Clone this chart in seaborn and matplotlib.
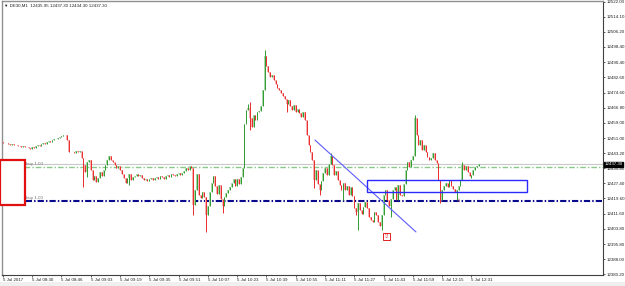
import matplotlib
matplotlib.use("Agg")
import matplotlib.pyplot as plt
import matplotlib.patches as mpatches
import numpy as np
import pandas as pd
import seaborn as sns

# DE30 M1 closes, one per minute
close = [
    12448.6, 12448.2, 12448.4, 12448.0, 12447.6, 12447.8, 12447.2, 12447.4, 12446.9, 12447.1,
    12446.6, 12446.8, 12446.2, 12446.5, 12445.9, 12445.4, 12446.3, 12446.0, 12446.9, 12447.3,
    12447.0, 12447.8, 12448.3, 12448.0, 12448.9, 12449.4, 12449.1, 12450.0, 12450.6, 12450.3,
    12451.2, 12451.6, 12451.9, 12452.4, 12452.8, 12450.2, 12444.0, 12443.6, 12443.9, 12443.5,
    12444.5, 12443.7, 12444.2,
    12440.6, 12437.0, 12433.4, 12438.6, 12439.6, 12434.4, 12429.2, 12431.3, 12428.2, 12430.2,
    12433.4, 12431.3, 12434.4, 12437.0, 12439.6, 12441.7, 12439.6, 12438.6, 12437.0, 12435.4,
    12436.4, 12434.4, 12432.3, 12430.2, 12427.6, 12430.2, 12432.3, 12429.2, 12430.8, 12431.3,
    12432.3, 12431.3, 12431.8, 12430.2, 12429.2, 12429.7, 12428.7, 12429.7, 12430.2, 12429.2,
    12430.2, 12430.8, 12429.7, 12431.3, 12430.8, 12429.7, 12431.3, 12431.8, 12430.8, 12432.3,
    12431.8, 12431.3, 12432.3, 12432.8, 12431.8, 12432.8, 12433.9, 12435.4, 12434.4, 12436.5,
    12435.4, 12416.2, 12424.0, 12432.3, 12421.4, 12419.8, 12422.9, 12420.4, 12411.0, 12415.7,
    12422.9, 12427.6, 12431.3, 12426.1, 12421.9, 12426.6, 12419.3, 12415.7, 12420.4, 12422.4,
    12424.0, 12425.6, 12427.6, 12429.7, 12426.1, 12429.7, 12427.1, 12430.8, 12435.4, 12458.3,
    12465.6, 12466.6, 12461.4, 12456.8, 12463.0, 12460.4, 12464.6, 12465.1, 12467.7, 12476.0,
    12493.7, 12488.5, 12485.4, 12482.8, 12483.8, 12481.2, 12479.1, 12477.0, 12476.0, 12474.4,
    12472.9, 12471.3, 12468.7, 12470.8, 12467.7, 12465.6, 12468.2, 12464.6, 12466.1, 12464.0,
    12462.0, 12464.6, 12460.4, 12452.6, 12447.4, 12443.8, 12439.6, 12429.2, 12434.4, 12427.1,
    12424.0, 12428.7, 12432.8, 12435.4, 12431.8, 12437.5, 12441.7, 12437.0, 12431.8, 12433.9,
    12429.2, 12426.6, 12424.0, 12427.6, 12424.0, 12426.1, 12421.4, 12425.6, 12420.9, 12414.6,
    12412.6, 12417.2, 12413.6, 12411.5, 12415.2, 12417.8, 12414.6, 12410.0, 12408.4, 12407.4,
    12412.6, 12411.0, 12407.4, 12405.3, 12411.0, 12421.4, 12424.0, 12418.8, 12415.7, 12419.3,
    12424.0, 12425.6, 12418.8, 12426.6, 12421.4, 12420.9, 12427.1, 12434.4, 12438.6, 12436.0,
    12439.6, 12441.7, 12461.4, 12452.6, 12447.4, 12450.0, 12444.8, 12447.4, 12443.8, 12441.2,
    12439.6, 12440.6, 12443.2, 12439.6, 12438.0, 12429.2, 12418.8, 12424.0, 12426.1, 12427.6,
    12425.6, 12429.2, 12426.1, 12424.5, 12422.9, 12424.0, 12426.1, 12429.2, 12437.0, 12434.4,
    12436.5, 12433.4, 12431.3, 12431.8, 12434.4, 12436.0, 12436.5, 12437.3,
]
first_open = 12448.8

# wicks that stick out beyond the body
wick_high = {134: 12468.7, 135: 12469.8, 143: 12496.8, 179: 12443.2, 225: 12463.0,
             251: 12438.6}
wick_low = {44: 12425.5, 46: 12430.8, 69: 12426.6, 104: 12411.0, 111: 12402.2,
            120: 12412.0, 135: 12455.2, 155: 12464.6, 170: 12425.0, 173: 12421.4,
            186: 12418.8, 193: 12411.0, 194: 12403.2, 207: 12403.2, 212: 12410.0,
            239: 12417.2, 248: 12418.8, 256: 12430.2}

time_labels = ['5 Jul 2017', '5 Jul 08:30', '5 Jul 08:46', '5 Jul 09:03', '5 Jul 09:19',
               '5 Jul 09:35', '5 Jul 09:51', '5 Jul 10:07', '5 Jul 10:23', '5 Jul 10:39',
               '5 Jul 10:55', '5 Jul 11:11', '5 Jul 11:27', '5 Jul 11:43', '5 Jul 11:59',
               '5 Jul 12:15', '5 Jul 12:31']
price_ticks = [12522.00, 12514.10, 12506.20, 12498.40, 12490.40, 12482.60, 12474.60,
               12466.80, 12459.00, 12451.00, 12443.20, 12435.40, 12427.40, 12419.60,
               12411.60, 12403.80, 12395.80, 12388.00, 12380.20]

bid = 12437.30
buy_level = 12436.0
stop_level = 12418.3
trend_idx = [170.5, 225.7]
trend_price = [12450.0, 12402.2]
zone_idx = [198.9, 286.3]
zone_price = [12423.0, 12429.2]
box_idx = [-1.6, 12.0]
box_price = [12416.2, 12439.6]
header = 'DE30,M1  12435.95 12437.30 12434.30 12437.30'

sns.set_theme(style='white')
plt.rcParams['font.family'] = ['Liberation Sans', 'DejaVu Sans']
small = 3.2

df = pd.DataFrame({'close': close})
df['open'] = [first_open] + close[:-1]
df['high'] = df[['open', 'close']].max(axis=1)
df['low'] = df[['open', 'close']].min(axis=1)
for k, v in wick_high.items():
    df.loc[k, 'high'] = v
for k, v in wick_low.items():
    df.loc[k, 'low'] = v
df['up'] = df['close'] >= df['open']

fig = plt.figure(figsize=(6.25, 2.86), dpi=100)
fig.patch.set_facecolor('white')
ax = fig.add_axes([2 / 625, 11 / 286, 601 / 625, 274 / 286])
ax.set_facecolor('white')

# horizontal levels
ax.axhline(bid, color='#c8c8c8', lw=0.8, zorder=1)
ax.axhline(buy_level, color='#88c888', lw=1.0, ls=(0, (4, 1.5, 1, 1.5)), zorder=1)
ax.axhline(stop_level, color='#0a0a8c', lw=1.5, ls=(0, (3, 1, 0.7, 1)), zorder=1)

# candles
up = df[df['up']]
dn = df[~df['up']]
ax.bar(up.index, up['close'] - up['open'], bottom=up['open'], width=0.85,
       color='#a8d8a8', linewidth=0, zorder=2)
ax.bar(dn.index, dn['open'] - dn['close'], bottom=dn['close'], width=0.85,
       color='#f7b0b0', linewidth=0, zorder=2)
ax.vlines(up.index, up['low'], up['high'], color='#2f9a2f', lw=0.7, zorder=3)
ax.vlines(dn.index, dn['low'], dn['high'], color='#ea2b2b', lw=0.7, zorder=3)

# trend line and zone
tl = pd.DataFrame({'i': trend_idx, 'p': trend_price})
sns.lineplot(data=tl, x='i', y='p', ax=ax, color='#5c5cff', lw=0.8, zorder=4)
ax.add_patch(mpatches.Rectangle((zone_idx[0], zone_price[0]), zone_idx[1] - zone_idx[0],
                                zone_price[1] - zone_price[0], fill=False,
                                edgecolor='#2a2aff', lw=1.0, zorder=4))

# order labels
ax.text(22, buy_level + 0.6, '#1 buy 1.00', fontsize=small, color='#707070',
        ha='right', va='bottom', zorder=5)
ax.text(22, stop_level + 0.6, '#1 buy 1.00', fontsize=small, color='#707070',
        ha='right', va='bottom', zorder=5)

# red box on the left
ax.add_patch(mpatches.Rectangle((box_idx[0] + 0.6, box_price[0] - 0.6), box_idx[1] - box_idx[0],
                                box_price[1] - box_price[0], facecolor='#d0d0d0',
                                edgecolor='none', clip_on=False, zorder=6))
ax.add_patch(mpatches.Rectangle((box_idx[0], box_price[0]), box_idx[1] - box_idx[0],
                                box_price[1] - box_price[0], facecolor='white',
                                edgecolor='#e01010', lw=1.6, clip_on=False, zorder=7))

# arrow markers
ax.text(209.8, 12399.6, '\u21e7', fontsize=4.5, color='#e02020', ha='center', va='center',
        family='DejaVu Sans', zorder=6,
        bbox=dict(boxstyle='square,pad=0.15', fc='white', ec='#e02020', lw=0.7))
ax.text(248.6, 12418.6, '\u21e7', fontsize=3.5, color='#e06060', ha='center', va='center',
        family='DejaVu Sans', zorder=6)

ax.set_xlim(-0.5, 327.9)
ax.set_ylim(12379.8, 12522.3)

ax.yaxis.tick_right()
ax.set_yticks(price_ticks)
ax.set_yticklabels([f'{p:.2f}' for p in price_ticks])
ax.tick_params(axis='y', labelsize=small, length=1.5, width=0.5, pad=0.8, colors='#202020',
               right=True, left=False)
ax.set_xticks(np.arange(0, 16 * len(time_labels), 16))
ax.set_xticklabels(time_labels, ha='left')
ax.tick_params(axis='x', labelsize=small, length=1.5, width=0.5, pad=1, colors='#202020',
               bottom=True)
ax.set_xlabel('')
ax.set_ylabel('')

for side in ['left', 'top']:
    ax.spines[side].set_color('#909090')
    ax.spines[side].set_linewidth(1.0)
for side in ['right', 'bottom']:
    ax.spines[side].set_color('#404040')
    ax.spines[side].set_linewidth(0.8)

# current price tag
ax.text(1.002, bid, f'{bid:.2f}', transform=ax.get_yaxis_transform(), fontsize=small,
        color='white', ha='left', va='center', zorder=8,
        bbox=dict(boxstyle='square,pad=0.12', fc='black', ec='black'))

# header line
fig.text(4 / 625, 1 - 6 / 286, '\u25bc ' + header, fontsize=small, color='#202020',
         ha='left', va='center', family=['Liberation Sans', 'DejaVu Sans'])

fig.add_artist(mpatches.Rectangle((0, 0), 1, 4 / 286, transform=fig.transFigure,
                                  facecolor='#efefef', edgecolor='none'))

fig.savefig('out.png', dpi=100)
